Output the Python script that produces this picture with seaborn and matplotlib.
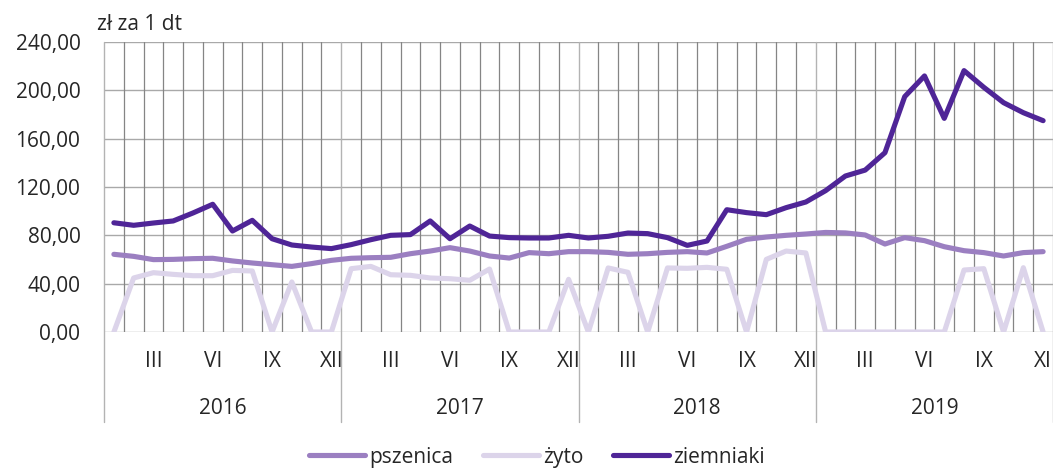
import numpy as np
import pandas as pd
import seaborn as sns
import matplotlib.pyplot as plt
from matplotlib import transforms

# ceny skupu, zł za 1 dt, miesięcznie 2016-2019
years = ["2016", "2017", "2018", "2019"]
month_labels = ["III", "VI", "IX", "XII"]

pszenica = [64.3, 62.6, 59.9, 60.1, 60.7, 61.0, 58.8, 57.1, 55.7, 54.3, 56.6, 59.3,
            61.0, 61.5, 61.8, 64.8, 67.0, 69.8, 67.0, 62.9, 61.2, 65.7, 64.8, 66.5,
            66.5, 65.9, 64.3, 64.8, 65.9, 66.5, 65.4, 70.9, 76.7, 78.6, 80.0, 81.1,
            82.4, 82.0, 80.3, 72.8, 78.1, 75.6, 70.6, 67.3, 65.7, 62.9, 65.7, 66.5]
zyto = [0.0, 44.7, 49.1, 47.7, 46.6, 46.6, 51.0, 50.5, 0.0, 41.4, 0.0, 0.0,
        52.4, 54.3, 47.4, 46.9, 44.7, 44.1, 42.8, 52.1, 0.0, 0.0, 0.0, 43.6,
        0.0, 53.0, 49.4, 0.0, 53.0, 52.7, 53.5, 51.9, 0.0, 60.1, 67.0, 65.4,
        0.0, 0.0, 0.0, 0.0, 0.0, 0.0, 0.0, 51.3, 52.4, 0.0, 53.2, 0.0]
ziemniaki = [90.4, 88.3, 90.2, 91.9, 98.5, 105.7, 83.6, 92.4, 77.2, 72.0, 70.3, 69.0,
             72.3, 76.4, 80.0, 80.6, 91.9, 77.2, 87.7, 79.4, 78.1, 77.8, 77.8, 80.0,
             77.8, 79.2, 81.9, 81.4, 78.1, 71.7, 75.3, 101.2, 98.8, 97.1, 102.9, 107.6,
             117.0, 129.1, 134.0, 148.4, 194.8, 211.9, 176.8, 216.3, 202.5, 189.8, 181.5, 174.9]

series = {"pszenica": pszenica, "żyto": zyto, "ziemniaki": ziemniaki}
colors = {"pszenica": "#9b7fc1", "żyto": "#dcd4ea", "ziemniaki": "#4f2597"}

n = len(pszenica)
df = pd.concat([pd.DataFrame({"m": np.arange(n), "cena": v, "produkt": k})
                for k, v in series.items()], ignore_index=True)

sns.set_style("white")
plt.rcParams["font.family"] = ["Open Sans", "DejaVu Sans"]

fig = plt.figure(figsize=(10.53, 4.69), dpi=100)
ax = fig.add_axes([104 / 1053, 1 - 332 / 469, 949 / 1053, 290 / 469])

sns.lineplot(data=df, x="m", y="cena", hue="produkt", palette=colors,
             linewidth=3.7, sort=False, ax=ax, legend=False, zorder=3)

ax.set_xlim(-0.5, n - 0.5)
ax.set_ylim(0, 240)
ax.set_yticks(np.arange(0, 241, 40))
ax.set_yticklabels([f"{v:.2f}".replace(".", ",") for v in np.arange(0, 241, 40)])
ax.set_xlabel("")
ax.set_ylabel("")
for s in ax.spines.values():
    s.set_visible(False)

# siatka
for v in np.arange(0, 241, 40):
    ax.axhline(v, color="#a9a9a9", lw=1.0, zorder=1)
for i in range(1, n):
    if i % 12:
        ax.axvline(i - 0.5, color="#858585", lw=0.9, zorder=1)

# linie oddzielające lata, schodzą pod oś
trans = transforms.blended_transform_factory(ax.transData, ax.transAxes)
for i in range(0, n + 1, 12):
    ax.plot([i - 0.5, i - 0.5], [1, -0.31], color="#b3b3b3", lw=1.0,
            transform=trans, clip_on=False, zorder=1)

# etykiety miesięcy i lat
pos, labs = [], []
for k in range(len(years)):
    for j, lab in enumerate(month_labels):
        pos.append(12 * k + 3 * j + 2)
        labs.append(lab)
labs[-1] = "XI"
ax.set_xticks(pos)
ax.set_xticklabels(labs)
ax.tick_params(axis="x", length=0, pad=14, labelsize=15)
ax.tick_params(axis="y", length=0, pad=17, labelsize=15)
for k, y in enumerate(years):
    ax.text(12 * k + 5.5, -0.265, y, transform=trans, ha="center", va="center",
            fontsize=15)

fig.text(97 / 1053, 1 - 25 / 469, "zł za 1 dt", ha="left", va="center", fontsize=15)

handles = [plt.Line2D([], [], color=colors[k], lw=3.7) for k in series]
fig.legend(handles, list(series), loc="center", bbox_to_anchor=(0.51, 1 - 457 / 469),
           ncol=3, frameon=False, fontsize=15, handlelength=2.7,
           handletextpad=0.2, columnspacing=1.4)

fig.savefig("out.png", dpi=100)
